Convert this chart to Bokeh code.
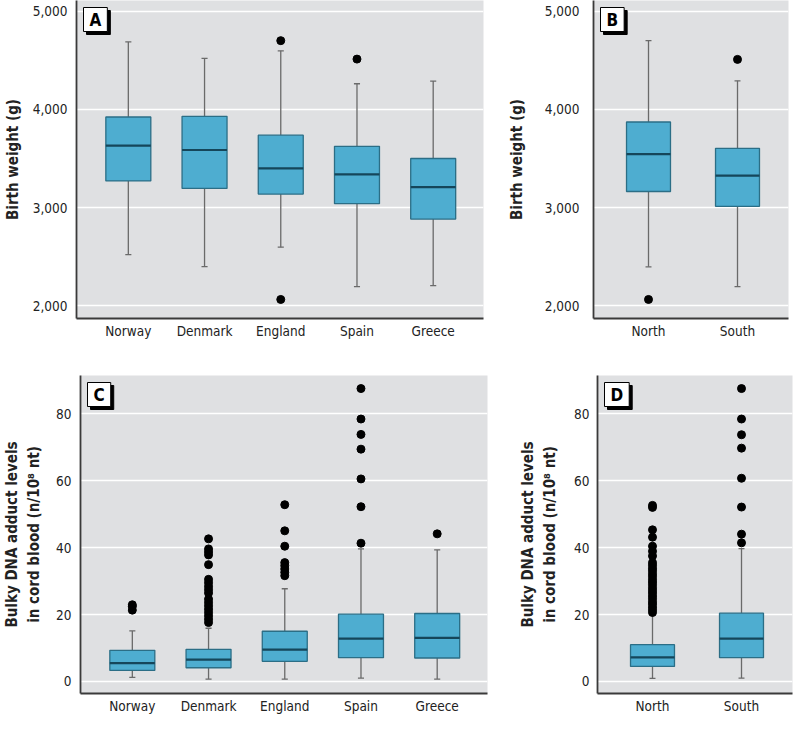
from bokeh.plotting import figure
from bokeh.layouts import row, column
from bokeh.models import FixedTicker, NumeralTickFormatter, Label, Range1d, ColumnDataSource
from bokeh.embed import file_html
from bokeh.resources import INLINE

# ---------------- data ----------------
countries = ["Norway", "Denmark", "England", "Spain", "Greece"]
regions = ["North", "South"]

# Panel A: birth weight by country (g)
bw_c_low = [2520, 2399, 2597, 2195, 2205]
bw_c_q1 = [3272, 3195, 3138, 3040, 2883]
bw_c_med = [3631, 3587, 3399, 3339, 3208]
bw_c_q3 = [3923, 3930, 3738, 3624, 3500]
bw_c_high = [4688, 4520, 4597, 4262, 4289]
bw_c_out_cat = ["England", "England", "Spain"]
bw_c_out_val = [4701, 2064, 4513]

# Panel B: birth weight by region (g)
bw_r_low = [2396, 2195]
bw_r_q1 = [3164, 3013]
bw_r_med = [3544, 3326]
bw_r_q3 = [3872, 3604]
bw_r_high = [4701, 4292]
bw_r_out_cat = ["North", "South"]
bw_r_out_val = [2064, 4510]

# Panel C: bulky DNA adducts by country (n/10^8 nt)
ad_c_low = [1.2, 0.7, 0.7, 1.0, 0.7]
ad_c_q1 = [3.3, 4.1, 6.0, 7.1, 7.0]
ad_c_med = [5.5, 6.5, 9.5, 12.8, 13.0]
ad_c_q3 = [9.3, 9.6, 15.0, 20.1, 20.3]
ad_c_high = [15.1, 15.9, 27.7, 39.6, 39.3]
ad_norway_out = [22.9, 22.4, 21.3]
ad_denmark_out = [42.6, 39.6, 38.7, 37.8, 34.9, 30.5, 29.5, 28.4, 27.4, 26.4,
                  24.6, 23.6, 22.6, 21.6, 20.6, 19.6, 18.6, 17.6]
ad_england_out = [52.8, 45.0, 40.4, 35.5, 34.6, 33.6, 32.6, 31.6]
ad_spain_out = [87.5, 78.4, 73.8, 69.4, 60.5, 52.2, 41.3]
ad_greece_out = [44.1]

# Panel D: bulky DNA adducts by region
ad_r_low = [0.9, 1.0]
ad_r_q1 = [4.5, 7.1]
ad_r_med = [7.2, 12.8]
ad_r_q3 = [11.0, 20.4]
ad_r_high = [20.0, 39.7]
ad_north_out = [52.6, 52.0, 45.3, 43.1, 40.4, 38.9, 37.5, 35.5, 34.7, 33.8, 33.1,
                32.2, 31.4, 30.5, 29.7, 28.9, 28.0, 27.2, 26.4, 25.5, 24.7, 23.8,
                23.1, 22.2, 21.4, 20.6]
ad_south_out = [87.5, 78.4, 73.7, 69.7, 60.7, 52.1, 44.0, 41.4]

bw_ticks = [2000, 3000, 4000, 5000]
ad_ticks = [0, 20, 40, 60, 80]

# ---------------- style ----------------
FONT = "'DejaVu Sans Condensed', 'Liberation Sans Narrow', sans-serif"
BG = "#dfe0e2"
BOX_FILL = "#4eadd0"
BOX_LINE = "#2b6e86"
MED_LINE = "#15465a"
WHISK = "#6a6a6a"
AXIS = "#3a3a3a"


def make_panel(cats, low, q1, med, q3, high, out_x, out_y, letter,
               fw, fh, xr, yr, ticks, fmt, ylabel,
               border_left, border_right, border_top, border_bottom,
               box_w, cap_w, label_standoff, tick_standoff):
    p = figure(frame_width=fw, frame_height=fh, output_backend="svg",
               toolbar_location=None, x_range=Range1d(*xr), y_range=Range1d(*yr),
               min_border_left=border_left, min_border_right=border_right,
               min_border_top=border_top, min_border_bottom=border_bottom)
    p.background_fill_color = BG
    p.border_fill_color = "white"
    p.outline_line_color = None
    xs = [i + 1 for i in range(len(cats))]
    src = ColumnDataSource(dict(x=xs, low=low, q1=q1, med=med, q3=q3, high=high,
                                xl=[v - box_w / 2 for v in xs], xr=[v + box_w / 2 for v in xs],
                                cl=[v - cap_w / 2 for v in xs], cr=[v + cap_w / 2 for v in xs]))
    # whiskers
    p.segment(x0="x", y0="q3", x1="x", y1="high", source=src, line_color=WHISK, line_width=1.3)
    p.segment(x0="x", y0="low", x1="x", y1="q1", source=src, line_color=WHISK, line_width=1.3)
    p.segment(x0="cl", y0="high", x1="cr", y1="high", source=src, line_color=WHISK, line_width=1.3)
    p.segment(x0="cl", y0="low", x1="cr", y1="low", source=src, line_color=WHISK, line_width=1.3)
    # boxes
    p.vbar(x="x", width=box_w, bottom="q1", top="q3", source=src,
           fill_color=BOX_FILL, line_color=BOX_LINE, line_width=1.3)
    p.segment(x0="xl", y0="med", x1="xr", y1="med", source=src, line_color=MED_LINE, line_width=2.2)
    # outliers
    ox = [cats.index(c) + 1 for c in out_x]
    p.scatter(ox, out_y, size=8, color="black")

    # grid / axes
    p.xgrid.grid_line_color = None
    p.ygrid.grid_line_color = "white"
    p.ygrid.grid_line_width = 1.6
    p.ygrid.ticker = FixedTicker(ticks=ticks)
    p.yaxis.ticker = FixedTicker(ticks=ticks)
    if fmt:
        p.yaxis.formatter = NumeralTickFormatter(format="0,0")
    p.xaxis.ticker = FixedTicker(ticks=xs)
    p.xaxis.major_label_overrides = {x: c for x, c in zip(xs, cats)}
    for ax in (p.xaxis[0], p.yaxis[0]):
        ax.axis_line_color = AXIS
        ax.axis_line_width = 1.8
        ax.major_tick_line_color = None
        ax.minor_tick_line_color = None
        ax.major_tick_out = 0
        ax.major_tick_in = 0
        ax.minor_tick_out = 0
        ax.minor_tick_in = 0
        ax.major_label_text_font = FONT
        ax.major_label_text_font_size = "13.5px"
        ax.major_label_text_color = "#222222"
    p.xaxis.major_label_standoff = 4
    p.xaxis.axis_label_standoff = 0
    p.yaxis.major_label_standoff = tick_standoff
    p.yaxis.axis_label = ylabel
    p.yaxis.axis_label_text_font = FONT
    p.yaxis.axis_label_text_font_style = "bold"
    p.yaxis.axis_label_text_font_size = "15px"
    p.yaxis.axis_label_text_color = "#222222"
    p.yaxis.axis_label_standoff = label_standoff

    # panel letter with drop shadow
    common = dict(x=xr[0], y=yr[1], text=letter, text_font=FONT, text_font_style="bold",
                  text_font_size="17px", text_align="left", text_baseline="top",
                  padding=dict(left=6, right=6, top=2, bottom=2))
    shadow = Label(x_offset=10, y_offset=-10, text_color="black",
                   background_fill_color="black", border_line_color="black", **common)
    front = Label(x_offset=7, y_offset=-7, text_color="black",
                  background_fill_color="white", border_line_color="black",
                  border_line_width=1, **common)
    p.add_layout(shadow)
    p.add_layout(front)
    return p


c_out_cat = (["Norway"] * len(ad_norway_out) + ["Denmark"] * len(ad_denmark_out) +
             ["England"] * len(ad_england_out) + ["Spain"] * len(ad_spain_out) +
             ["Greece"] * len(ad_greece_out))
c_out_val = ad_norway_out + ad_denmark_out + ad_england_out + ad_spain_out + ad_greece_out
r_out_cat = ["North"] * len(ad_north_out) + ["South"] * len(ad_south_out)
r_out_val = ad_north_out + ad_south_out

AD_LABEL = "Bulky DNA adduct levels\nin cord blood (n/10\u2078 nt)"

TOP_FH = 318
BOT_FH = 318

pA = make_panel(countries, bw_c_low, bw_c_q1, bw_c_med, bw_c_q3, bw_c_high,
                bw_c_out_cat, bw_c_out_val, "A", 407, TOP_FH, (0.32, 5.66), (1870, 5110),
                bw_ticks, True, "Birth weight (g)", 70, 15, 0, 27, 0.59, 0.08, 8, 9)
pB = make_panel(regions, bw_r_low, bw_r_q1, bw_r_med, bw_r_q3, bw_r_high,
                bw_r_out_cat, bw_r_out_val, "B", 195, TOP_FH, (0.382, 2.573), (1870, 5110),
                bw_ticks, True, "Birth weight (g)", 95, 2, 0, 27, 0.494, 0.067, 16, 14)
pC = make_panel(countries, ad_c_low, ad_c_q1, ad_c_med, ad_c_q3, ad_c_high,
                c_out_cat, c_out_val, "C", 407, BOT_FH, (0.32, 5.66), (-3.6, 91.4),
                ad_ticks, False, AD_LABEL, 70, 15, 30, 21, 0.59, 0.08, 10, 9)
pD = make_panel(regions, ad_r_low, ad_r_q1, ad_r_med, ad_r_q3, ad_r_high,
                r_out_cat, r_out_val, "D", 195, BOT_FH, (0.382, 2.573), (-3.6, 91.4),
                ad_ticks, False, AD_LABEL, 95, 2, 30, 21, 0.494, 0.067, 12, 8)

layout = column(row(pA, pB), row(pC, pD))

open("out.html", "w").write(file_html(layout, INLINE))
